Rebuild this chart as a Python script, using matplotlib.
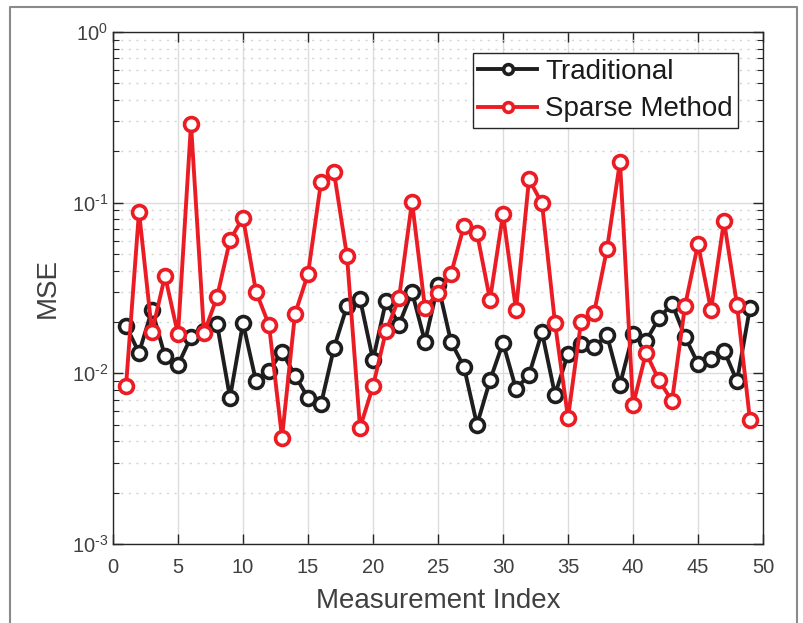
import numpy as np
import matplotlib
matplotlib.use("Agg")
import matplotlib.pyplot as plt
from matplotlib.lines import Line2D
from matplotlib.ticker import LogLocator, FixedLocator, NullFormatter, FuncFormatter

plt.rcParams['font.family'] = ['Liberation Sans', 'DejaVu Sans']
plt.rcParams['mathtext.fontset'] = 'custom'
plt.rcParams['mathtext.rm'] = 'Liberation Sans'
plt.rcParams['mathtext.it'] = 'Liberation Sans'

index = list(range(1, 50))
traditional = [0.0190, 0.0132, 0.0235, 0.0126, 0.0112, 0.0163, 0.0177, 0.0195, 0.0072, 0.0197,
               0.0090, 0.0103, 0.0134, 0.0097, 0.0072, 0.0066, 0.0141, 0.0248, 0.0273, 0.0120,
               0.0266, 0.0193, 0.0300, 0.0153, 0.0330, 0.0153, 0.0109, 0.0050, 0.0091, 0.0151,
               0.0081, 0.0098, 0.0174, 0.0075, 0.0130, 0.0149, 0.0143, 0.0167, 0.0086, 0.0170,
               0.0155, 0.0210, 0.0256, 0.0164, 0.0114, 0.0121, 0.0136, 0.0090, 0.0243]
sparse = [0.0084, 0.0886, 0.0174, 0.0373, 0.0169, 0.289, 0.0172, 0.0279, 0.0604, 0.0817,
          0.0301, 0.0192, 0.0042, 0.0223, 0.0382, 0.1316, 0.1507, 0.0487, 0.0048, 0.0084,
          0.0177, 0.0275, 0.1014, 0.0241, 0.0295, 0.0382, 0.0733, 0.0662, 0.0270, 0.0855,
          0.0235, 0.137, 0.0991, 0.0197, 0.0055, 0.0199, 0.0225, 0.0535, 0.174, 0.0065,
          0.0132, 0.0091, 0.0069, 0.0248, 0.0573, 0.0235, 0.0781, 0.0252, 0.0053]

xticks = [0, 5, 10, 15, 20, 25, 30, 35, 40, 45, 50]

fig = plt.figure(figsize=(8.04, 6.23), dpi=100)
ax = fig.add_axes([113/804, 1-544/623, 650/804, 512/623])

black = '#1e1e1e'
red = '#ec1c24'
ax.plot(index, traditional, color=black, lw=2.8, marker='o', ms=10, mew=2.6,
        mfc='white', mec=black, label='Traditional', zorder=3)
ax.plot(index, sparse, color=red, lw=2.8, marker='o', ms=10, mew=2.6,
        mfc='white', mec=red, label='Sparse Method', zorder=4)

ax.set_yscale('log')
ax.set_xlim(0, 50)
ax.set_ylim(1e-3, 1)
ax.xaxis.set_major_locator(FixedLocator(xticks))
ax.yaxis.set_major_locator(LogLocator(base=10, numticks=10))
ax.yaxis.set_minor_locator(LogLocator(base=10, subs=np.arange(2, 10), numticks=20))
ax.yaxis.set_minor_formatter(NullFormatter())


def fmt(v, p):
    e = int(round(np.log10(v)))
    s = str(e).replace('-', '\u2010')
    return r'$10^{\mathrm{%s}}$' % s


ax.yaxis.set_major_formatter(FuncFormatter(fmt))

axc = '#262626'
for s in ax.spines.values():
    s.set_color(axc)
    s.set_linewidth(1.0)
ax.tick_params(which='both', direction='in', top=True, right=True, colors=axc,
               labelcolor='#404040', labelsize=14.5)
ax.tick_params(which='major', length=7, width=1.0)
ax.tick_params(which='minor', length=4, width=0.8)
ax.tick_params(axis='x', pad=10)

ax.grid(True, which='major', axis='both', color='#dcdcdc', lw=1.0, ls='-', zorder=0)
ax.grid(True, which='minor', axis='y', color='#d4d4d4', lw=1.0, ls=(0, (1.5, 4)), zorder=0)
ax.set_axisbelow(True)

ax.set_xlabel('Measurement Index', fontsize=20, color='#404040', labelpad=8)
ax.set_ylabel('MSE', fontsize=20, color='#404040', labelpad=8)

leg = ax.legend(loc='upper right', bbox_to_anchor=(0.962, 0.959), borderaxespad=0,
                fontsize=20, frameon=True, fancybox=False, handlelength=2.1,
                handletextpad=0.3, borderpad=0.2, labelspacing=0.43, markerscale=0.7)
leg.get_frame().set_edgecolor('#262626')
leg.get_frame().set_linewidth(1.0)
leg.get_frame().set_alpha(1)
for t in leg.get_texts():
    t.set_color('#1a1a1a')

frame = Line2D([10/804, 10/804, 797/804, 797/804], [0, 1-7/623, 1-7/623, 0],
               transform=fig.transFigure, color='#8a8a8a', lw=1.5)
fig.add_artist(frame)

fig.savefig('out.png', dpi=100)
